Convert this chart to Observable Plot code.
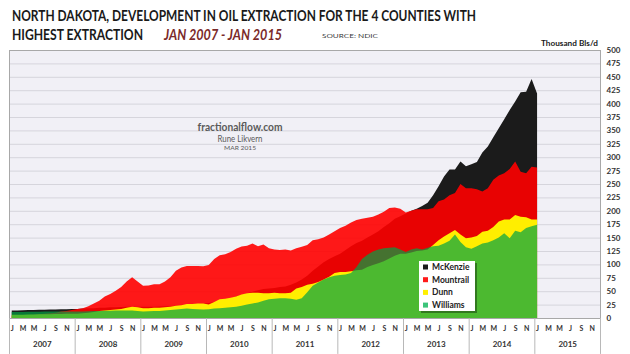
<!DOCTYPE html>
<html><head><meta charset="utf-8">
<script src="https://cdn.jsdelivr.net/npm/d3@7"></script>
<script src="https://cdn.jsdelivr.net/npm/@observablehq/plot@0.6"></script>
<style>
body{margin:0;background:#fff;}
#chart{width:630px;height:354px;}
</style>
</head><body><div id="chart"></div>
<script>
// Monthly oil extraction, thousand barrels/day, Jan 2007 .. Jan 2015
const mckenzie = [
 14,14,14.5,15,15,15.5,15.5,16,16,16.5,16.5,17,
 17,17.5,18,18,19,19,20,20,20.5,21,21,21,
 21,21,21,21.5,22,22,23,23,24,25,26,27,
 28,30,32,34,37,40,43,46,49,52,54,55,
 56,58,59,62,66,72,79,88,96,104,110,115,
 120,127,134,140,144,150,156,162,170,177,185,190,
 195,200,204,209,215,229,246,264,277,277,292,283,
 287,291,309,320,337,354,371,388,404,421,422,446,
 419];
const mountrail = [
 4,4.5,5,5.5,6,7,8,9,10,12,13,15,
 17,18,22,27,32,40,45,51,58,68,76,68,
 60,60.5,63,63,68,76,88,94,97,97,97,96.5,
 99,110,117,119,123,129,133.5,135,139,134,137,130,
 128,127,128,126,130,133,136,145,147,150,156,162,
 168,172,178,183,185,187,189,193,198,205,206,204,
 197,200,203,203,203,205,218,221,229,233,250,242,
 242,240,236,242,258,266,270,278,292,273,270,282,
 281];
const dunn = [
 6,6,6,6.5,6.5,7,7,7,7.5,7.5,8,8,
 8,9,10,11,13,14,15,16,17,19,21,20,
 18,18,19,19,20,21,23,24,26,26,27,27,
 25,30,35,36,38,40,44,46,47,47,46,46,
 47,46,46,47,55,58,62,64,67,72,77,84,
 86,86,87,89,90,95,99,102,106,111,116,120,
 120,122,125,126,128,136,145,152,158,164,156,149,
 150,153,161,163,170,180,184,184,192,189,188,184,
 184];
const williams = [
 11,11,11,11.5,11.5,11.5,12,12,12,12,12,12,
 12,12,12.5,13,13,13.5,13.5,14,14,14,14,13,
 12,12.5,13,13,14,15,16,17,17.5,17,16.5,16,
 16.5,17.5,18,19,20,21,23,25,27,29,32,35,
 36,37,37,36,34,37,48,60,66,72,76,79,
 80,81,84,95,110,118,124,128,130,131,132,128,
 123,128,130,128,131,134,135,139,144,156,142,132,
 129,134,139,141,145,150,158,149,163,160,168,171,
 174];

const counties = ["McKenzie","Mountrail","Dunn","Williams"];
const seriesValues = [mckenzie, mountrail, dunn, williams];
const colors = ["#1B1B1B","#FF0000","#FFEE00","#00A245"];
const opacities = [1, 0.9, 1, 0.7];
const legendColors = ["#1B1B1B","#FF1A1A","#FFF000","#3CC47A"];
const years = [2007,2008,2009,2010,2011,2012,2013,2014,2015];
const monthLetters = ["J","M","M","J","S","N"];
const yTicks = d3.range(0, 501, 25);

const rows = [];
seriesValues.forEach((vals, k) => vals.forEach((v, i) => rows.push({c: counties[k], m: i + 0.5, v})));
const monthTicks = [];
years.forEach((y, yi) => monthLetters.forEach((l, j) => monthTicks.push({m: yi*12 + j*2 + 0.5, label: l})));
const yearTicks = years.map((y, i) => ({m: i*12 + 6, label: String(y)}));
const yearBounds = d3.range(0, years.length + 1).map(i => i*12);

const font = "Lato, 'Open Sans', sans-serif";

const chart = Plot.plot({
  width: 630, height: 354,
  marginLeft: 9, marginRight: 30, marginTop: 50, marginBottom: 36,
  style: {fontFamily: font, background: "#fff", overflow: "visible", color: "#262626"},
  x: {domain: [0, 108], axis: null},
  y: {domain: [0, 500], axis: null},
  marks: [
    Plot.frame({fill: "#F1F0F6", stroke: null}),
    Plot.gridY(yTicks.slice(1), {stroke: "#D6D5DC", strokeOpacity: 1}),
    ...counties.map((c, k) => Plot.areaY(rows, {filter: d => d.c === c, x: "m", y: "v", fill: colors[k], fillOpacity: opacities[k]})),
    Plot.frame({stroke: "#A8A8A8"}),
    Plot.ruleX(yearBounds, {x: d => d, y1: 0, y2: -67, stroke: "#B8B8B8"}),
    Plot.text(monthTicks, {x: "m", text: "label", frameAnchor: "bottom", dy: 12, fontSize: 7, fontWeight: "bold", fill: "#333"}),
    Plot.text(yearTicks, {x: "m", text: "label", frameAnchor: "bottom", dy: 28, fontSize: 8, fontWeight: "bold", fill: "#333"}),
    Plot.axisY(yTicks, {anchor: "right", tickSize: 0, tickPadding: 6, fontSize: 8, fontWeight: "bold", label: null, fill: "#333"})
  ]
});
document.getElementById("chart").append(chart);

const svg = d3.select(chart);
function txt(s, x, y, size, opts = {}) {
  const t = svg.append("text").attr("x", x).attr("y", y).text(s)
    .attr("font-size", size).attr("font-family", font)
    .attr("text-anchor", opts.anchor || "start")
    .attr("font-weight", opts.weight || "bold").attr("fill", opts.fill || "#1A1A1A");
  if (opts.italic) t.attr("font-style", "italic");
  if (opts.len) t.attr("textLength", opts.len).attr("lengthAdjust", "spacingAndGlyphs");
  return t;
}
txt("NORTH DAKOTA, DEVELOPMENT IN OIL EXTRACTION FOR THE 4 COUNTIES WITH", 12, 21, 14.5, {len: 464});
txt("HIGHEST EXTRACTION", 12, 40, 14.5, {len: 131});
txt("JAN 2007 - JAN 2015", 164, 40, 15, {len: 118, italic: true, fill: "#7B2A2A"});
txt("SOURCE: NDIC", 322, 38, 6.5, {len: 56, weight: "normal", fill: "#404040"});
txt("Thousand Bls/d", 541, 46, 8, {len: 57});
txt("fractionalflow.com", 240, 131, 11.5, {anchor: "middle", fill: "#5A5A5A", len: 85});
txt("Rune Likvern", 240, 142, 8.5, {anchor: "middle", fill: "#5A5A5A", weight: "normal", len: 45});
txt("MAR 2015", 240, 150, 6.5, {anchor: "middle", fill: "#5A5A5A", weight: "normal", len: 32});

// legend
const lg = svg.append("g").attr("transform", "translate(419,261)");
lg.append("rect").attr("x", 2).attr("y", 2).attr("width", 56).attr("height", 50).attr("fill", "#000").attr("opacity", 0.35);
lg.append("rect").attr("width", 56).attr("height", 50).attr("fill", "#fff");
counties.forEach((c, i) => {
  const yy = 6 + i*12.7;
  lg.append("rect").attr("x", 4).attr("y", yy - 2.5).attr("width", 5).attr("height", 5).attr("fill", legendColors[i]);
  lg.append("text").attr("x", 13).attr("y", yy + 3).text(c).attr("font-size", 8.5)
    .attr("text-anchor", "start")
    .attr("font-family", font).attr("font-weight", "bold").attr("fill", "#222");
});
</script>
</body></html>
